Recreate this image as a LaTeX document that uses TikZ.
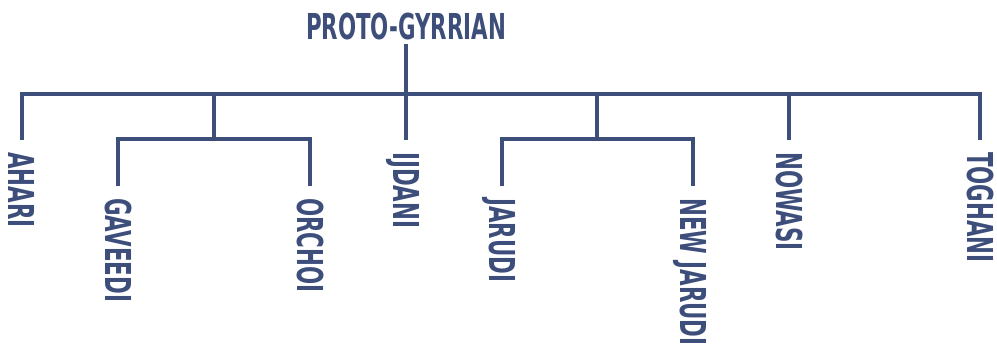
\documentclass[tikz,border=0pt]{standalone}
\usepackage{fontspec}
\newfontfamily\treefont[FakeStretch=0.665]{DejaVu Sans Condensed}
\definecolor{ink}{HTML}{3D4E7B}
\tikzset{
  branch/.style={draw=ink, line width=3.5pt},
  lang/.style={text=ink, font=\treefont\bfseries\fontsize{35.7}{36}\selectfont,
    inner sep=0pt, text height=26pt, text depth=0pt},
  leaf/.style={lang, rotate=-90, anchor=west}
}
\newcommand{\drop}[2]{\draw[branch, shorten >=12pt] (#1) -- (#2.west);}

\begin{document}
\begin{tikzpicture}[x=1pt,y=-1pt]
  \useasboundingbox (0,0) rectangle (997,347);
  \node[lang] (root) at (406,26.5) {PROTO-GYRRIAN};
  \coordinate (bar) at (406,94);
  \coordinate (g1) at (214,94);
  \coordinate (k1) at (214,139);
  \coordinate (g2) at (597,94);
  \coordinate (k2) at (597,139);
  % leaves
  \foreach \id/\x/\y/\txt in {ahari/22/152/AHARI, gaveedi/118/198/GAVEEDI,
      orchoi/310/198/ORCHOI, ijdani/406/152/IJDANI, jarudi/502/198/JARUDI,
      newjarudi/693/198/NEW JARUDI, nowasi/789/152/NOWASI, toghani/980/152/TOGHANI}
    \node[leaf] (\id) at (\x,\y) {\txt};
  \draw[branch, shorten <=4pt] (root.south) -- (bar);
  \draw[branch, shorten <=12pt, shorten >=12pt] (ahari.west) |- (bar) -| (toghani.west);
  \drop{bar}{ijdani}
  \drop{nowasi.west |- bar}{nowasi}
  \draw[branch] (g1) -- (k1);
  \draw[branch, shorten <=12pt, shorten >=12pt] (gaveedi.west) |- (k1) -| (orchoi.west);
  \draw[branch] (g2) -- (k2);
  \draw[branch, shorten <=12pt, shorten >=12pt] (jarudi.west) |- (k2) -| (newjarudi.west);
\end{tikzpicture}
\end{document}
